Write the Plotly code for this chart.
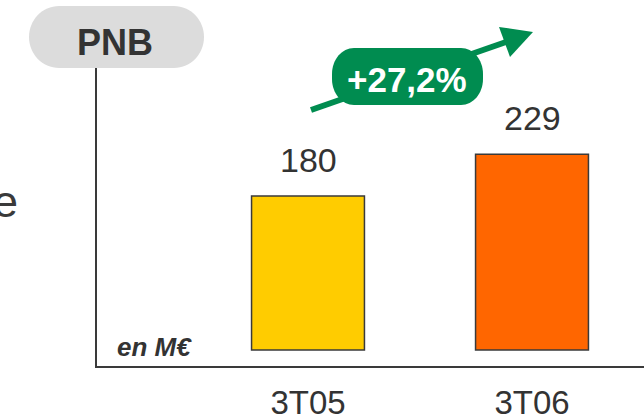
import plotly.graph_objects as go

# ---- data ----
categories = ["3T05", "3T06"]
values = [180, 229]
bar_colors = ["#FFCC00", "#FF6600"]
growth_label = "+27,2%"
title_label = "PNB"
unit_label = "en M\u20ac"

# ---- geometry helpers (pixel -> paper) ----
L, R, T, B = 97, 644, 68, 366
W, H = R - L, B - T


def xp(px):
    return (px - L) / W


def yp(py):
    return (B - py) / H


def pill_path(x0, y0, x1, y1, rx, ry):
    k = 0.5523
    ym0 = y0 + ry
    ym1 = y1 - ry
    pts = []
    pts.append(f"M{xp(x0 + rx)},{yp(y0)}")
    pts.append(f"L{xp(x1 - rx)},{yp(y0)}")
    pts.append(f"C{xp(x1 - rx + k * rx)},{yp(y0)} {xp(x1)},{yp(ym0 - k * ry)} {xp(x1)},{yp(ym0)}")
    pts.append(f"L{xp(x1)},{yp(ym1)}")
    pts.append(f"C{xp(x1)},{yp(ym1 + k * ry)} {xp(x1 - rx + k * rx)},{yp(y1)} {xp(x1 - rx)},{yp(y1)}")
    pts.append(f"L{xp(x0 + rx)},{yp(y1)}")
    pts.append(f"C{xp(x0 + rx - k * rx)},{yp(y1)} {xp(x0)},{yp(ym1 + k * ry)} {xp(x0)},{yp(ym1)}")
    pts.append(f"L{xp(x0)},{yp(ym0)}")
    pts.append(f"C{xp(x0)},{yp(ym0 - k * ry)} {xp(x0 + rx - k * rx)},{yp(y0)} {xp(x0 + rx)},{yp(y0)}")
    pts.append("Z")
    return " ".join(pts)


NARROW = "Liberation Sans Narrow, Liberation Sans, Arial, sans-serif"
ARIAL = "Liberation Sans, Arial, sans-serif"

xpos = list(range(len(categories)))

fig = go.Figure()
fig.add_trace(go.Bar(
    x=xpos, y=values, width=0.504,
    marker=dict(color=bar_colors, line=dict(color="#3a3a3a", width=1.5)),
    hoverinfo="skip", showlegend=False,
))

annotations = []
for xi, v in zip(xpos, values):
    annotations.append(dict(
        x=xi, y=v, xref="x", yref="y", text=str(v), showarrow=False,
        yanchor="middle", xanchor="center", yshift=36,
        font=dict(family=NARROW, size=34, color="#333333"),
    ))

annotations += [
    dict(x=xp(115), y=yp(42), xref="paper", yref="paper", text=f"<b>{title_label}</b>",
         showarrow=False, xanchor="center", yanchor="middle",
         font=dict(family=ARIAL, size=36, color="#333333")),
    dict(x=xp(407), y=yp(79), xref="paper", yref="paper", text=f"<b>{growth_label}</b>",
         showarrow=False, xanchor="center", yanchor="middle",
         font=dict(family=ARIAL, size=35, color="#FFFFFF")),
    dict(x=xp(115), y=yp(347), xref="paper", yref="paper", text=f"<b><i>{unit_label}</i></b>",
         showarrow=False, xanchor="left", yanchor="middle",
         font=dict(family=ARIAL, size=26, color="#333333")),
    dict(x=xp(20), y=yp(201), xref="paper", yref="paper", text="e",
         showarrow=False, xanchor="right", yanchor="middle",
         font=dict(family=ARIAL, size=45, color="#3a3a3a")),
]

shapes = [
    # gray title pill
    dict(type="path", xref="paper", yref="paper", path=pill_path(29, 6, 204, 68, 30, 31),
         fillcolor="#DCDCDC", line=dict(width=0), layer="above"),
    # arrow shaft
    dict(type="line", xref="paper", yref="paper", x0=xp(311), y0=yp(110), x1=xp(506), y1=yp(42),
         line=dict(color="#008C50", width=6), layer="above"),
    # arrow head
    dict(type="path", xref="paper", yref="paper",
         path=f"M{xp(533)},{yp(32)} L{xp(499)},{yp(27)} L{xp(510)},{yp(57)} Z",
         fillcolor="#008C50", line=dict(width=0), layer="above"),
    # green pill
    dict(type="path", xref="paper", yref="paper", path=pill_path(332, 48, 483, 105, 22, 26),
         fillcolor="#008C50", line=dict(width=0), layer="above"),
]

fig.update_layout(
    width=644, height=419,
    margin=dict(l=L, r=644 - R, t=T, b=419 - B, pad=0, autoexpand=False),
    paper_bgcolor="white", plot_bgcolor="white",
    annotations=annotations, shapes=shapes,
    bargap=0,
    xaxis=dict(
        range=[(L - 308) / 224, (R - 308) / 224],
        tickmode="array", tickvals=xpos, ticktext=categories,
        showgrid=False, zeroline=False, automargin=False,
        showline=True, linecolor="#3a3a3a", linewidth=2,
        ticks="outside", ticklen=6, tickcolor="rgba(0,0,0,0)",
        tickfont=dict(family=NARROW, size=33, color="#333333"),
        fixedrange=True,
    ),
    yaxis=dict(
        range=[-16 / 0.855, (350 - T) / 0.855],
        showgrid=False, zeroline=False, showticklabels=False, automargin=False,
        showline=True, linecolor="#3a3a3a", linewidth=2,
        fixedrange=True,
    ),
)

fig.write_html(
    "out.html",
    config={"displayModeBar": False, "staticPlot": True},
    post_script="document.body.style.margin='0';document.body.style.overflow='hidden';",
)
